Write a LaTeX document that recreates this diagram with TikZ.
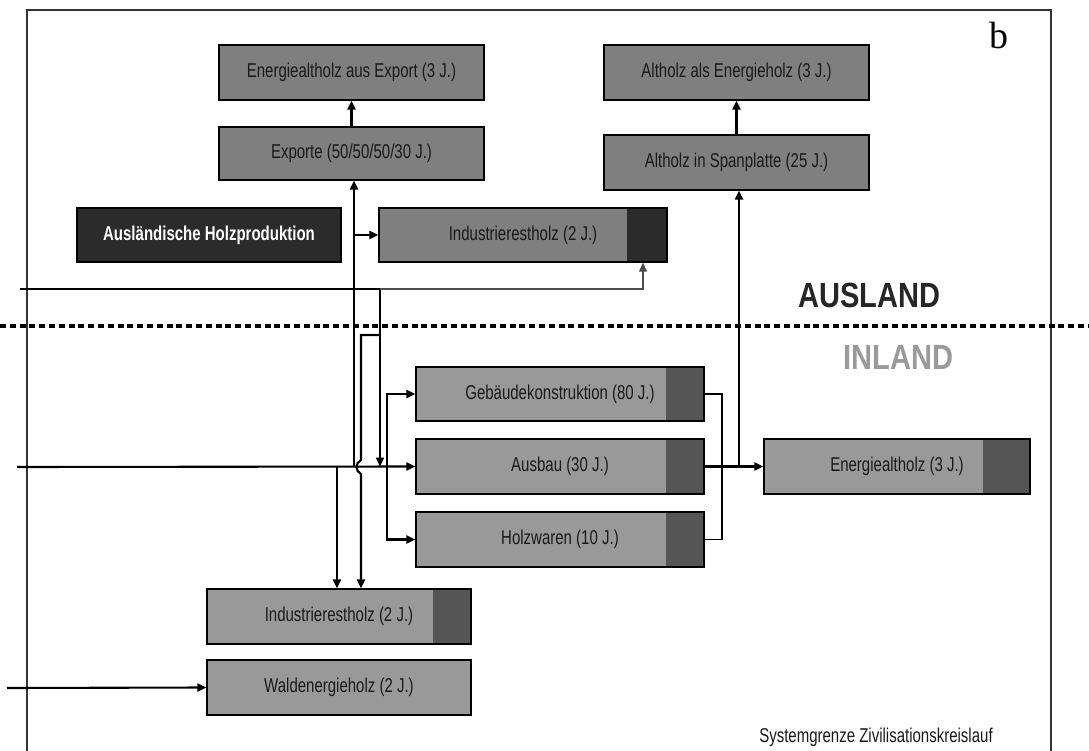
\documentclass[tikz,border=0pt]{standalone}
\usepackage{fontspec}
\setmainfont{Liberation Sans}
\newfontfamily\narrowfont[FakeStretch=0.75]{Liberation Sans}
\newfontfamily\headfont[FakeStretch=0.83]{Liberation Sans}
\newfontfamily\bserif{Liberation Serif}
\usetikzlibrary{arrows.meta,calc}
\definecolor{boxup}{HTML}{7F7F7F}
\definecolor{boxlow}{HTML}{999999}
\definecolor{darkend}{HTML}{555555}
\definecolor{blackend}{HTML}{2B2B2B}
\definecolor{txt}{HTML}{1A1A1A}
\definecolor{inlgray}{HTML}{9A9A9A}
\definecolor{framecol}{HTML}{333333}
\definecolor{headcol}{HTML}{262626}
\tikzset{
  box/.style={draw=black, line width=1.3pt, minimum height=54pt, inner sep=0pt,
    font=\narrowfont\fontsize{20}{23}\selectfont, text=txt},
  upbox/.style={box, fill=boxup, minimum width=265pt},
  lowbox/.style={box, fill=boxlow},
  endpart/.style n args={2}{path picture={\fill[#1] ([xshift=-#2]path picture bounding box.north east) rectangle (path picture bounding box.south east);}},
  conn/.style={line width=2.1pt, draw=black},
  thinconn/.style={line width=1.1pt, draw=black},
  arr/.style={-{Triangle[length=9pt,width=8pt]}},
  heading/.style={font=\headfont\bfseries\fontsize{35}{40}\selectfont, inner sep=0pt},
}
\begin{document}
\begin{tikzpicture}[x=1pt,y=-1pt]
\useasboundingbox (0,0) rectangle (1089,751);
\fill[white] (0,0) rectangle (1089,751);
% frame
\draw[framecol, line width=1.5pt] (27,751) -- (27,10) -- (1051,10) -- (1051,751);
% border line
\draw[black, line width=4.5pt, dash pattern=on 6pt off 3.8pt] (0,326) -- (1089,326);

% upper boxes
\node[upbox, minimum height=55pt] (eae) at (351.5,72.5) {Energiealtholz aus Export (3 J.)};
\node[upbox, minimum height=53pt] (exp) at (351.5,153.5) {Exporte (50/50/50/30 J.)};
\node[box, fill=blackend, minimum width=264pt, text=white, font=\narrowfont\bfseries\fontsize{20}{23}\selectfont] (ahp) at (209,235) {Ausländische Holzproduktion};
\node[box, fill=boxup, minimum width=288pt, endpart={blackend}{40pt}] (ind1) at (523,235) {Industrierestholz (2 J.)};
\node[upbox, minimum height=55pt] (aae) at (736.5,72.5) {Altholz als Energieholz (3 J.)};
\node[upbox, minimum height=55pt] (spa) at (736.5,162.5) {Altholz in Spanplatte (25 J.)};

% lower boxes
\node[lowbox, minimum width=288pt, endpart={darkend}{38pt}] (geb) at (560,394) {Gebäudekonstruktion (80 J.)};
\node[lowbox, minimum width=288pt, minimum height=55pt, endpart={darkend}{38pt}] (aus) at (560,466.5) {Ausbau (30 J.)};
\node[lowbox, minimum width=288pt, minimum height=55pt, endpart={darkend}{38pt}] (holz) at (560,539.5) {Holzwaren (10 J.)};
\node[lowbox, minimum width=266pt, minimum height=55pt, endpart={darkend}{47pt}] (ea) at (897,466.5) {Energiealtholz (3 J.)};
\node[lowbox, minimum width=264pt, minimum height=55pt, endpart={darkend}{38pt}] (ind2) at (339,616.5) {Industrierestholz (2 J.)};
\node[lowbox, minimum width=264pt, minimum height=55pt] (wald) at (339,687.5) {Waldenergieholz (2 J.)};

% labels
\node[heading, text=headcol] (lA) at (869.5,295) {AUSLAND};
\node[heading, text=inlgray] (lI) at (898.5,357) {INLAND};
\node[font=\bserif\fontsize{38}{40}\selectfont, inner sep=0pt] (lb) at (999,36) {b};
\node[font=\narrowfont\fontsize{20}{23}\selectfont, text=txt, inner sep=0pt] (lS) at (876,737) {Systemgrenze Zivilisationskreislauf};

% coordinates
\coordinate (inA) at (17,467);
\coordinate (inB) at (20,289);
\coordinate (inC) at (7,688);
\coordinate (jx) at (354,467);
\coordinate (jB) at (380,289);
\coordinate (jC) at (643,289);
\coordinate (jD) at (380,335);
\coordinate (jE) at (361,335);
\coordinate (jF) at (337,467);
\coordinate (jG) at (387,467);
\coordinate (rB) at (722,467);
\coordinate (jH) at (739,467);

% connectors
\draw[conn, arr] (exp.north) -- (eae.south);
\draw[conn, arr] (spa.north) -- (aae.south);
\draw[conn, arr] (inA) -- (aus.west);
\draw[conn, arr] (jx) -- (jx |- exp.south);
\draw[conn, arr] (jx |- ind1.west) -- (ind1.west);
\draw[conn] (inB) -- (jB);
\draw[conn, arr] (jB) -- (jB |- aus.west);
\draw[thinconn, draw=black!70, arr] (jB) -- (jC) -- (jC |- ind1.south);
\draw[conn, arr] (jD) -- (jE) -- (361,460) .. controls (355,463) and (355,471) .. (361,474) -- (jE |- ind2.north);
\draw[conn, arr] (jF) -- (jF |- ind2.north);
\draw[conn, arr] (jG) |- (geb.west);
\draw[conn, arr] (jG) |- (holz.west);
\draw[thinconn] (geb.east) -| (rB) |- (holz.east);
\draw[conn, arr] (aus.east) -- (ea.west);
\draw[conn, arr] (jH) -- (jH |- spa.south);
\draw[conn, arr] (inC) -- (wald.west);
\end{tikzpicture}
\end{document}
